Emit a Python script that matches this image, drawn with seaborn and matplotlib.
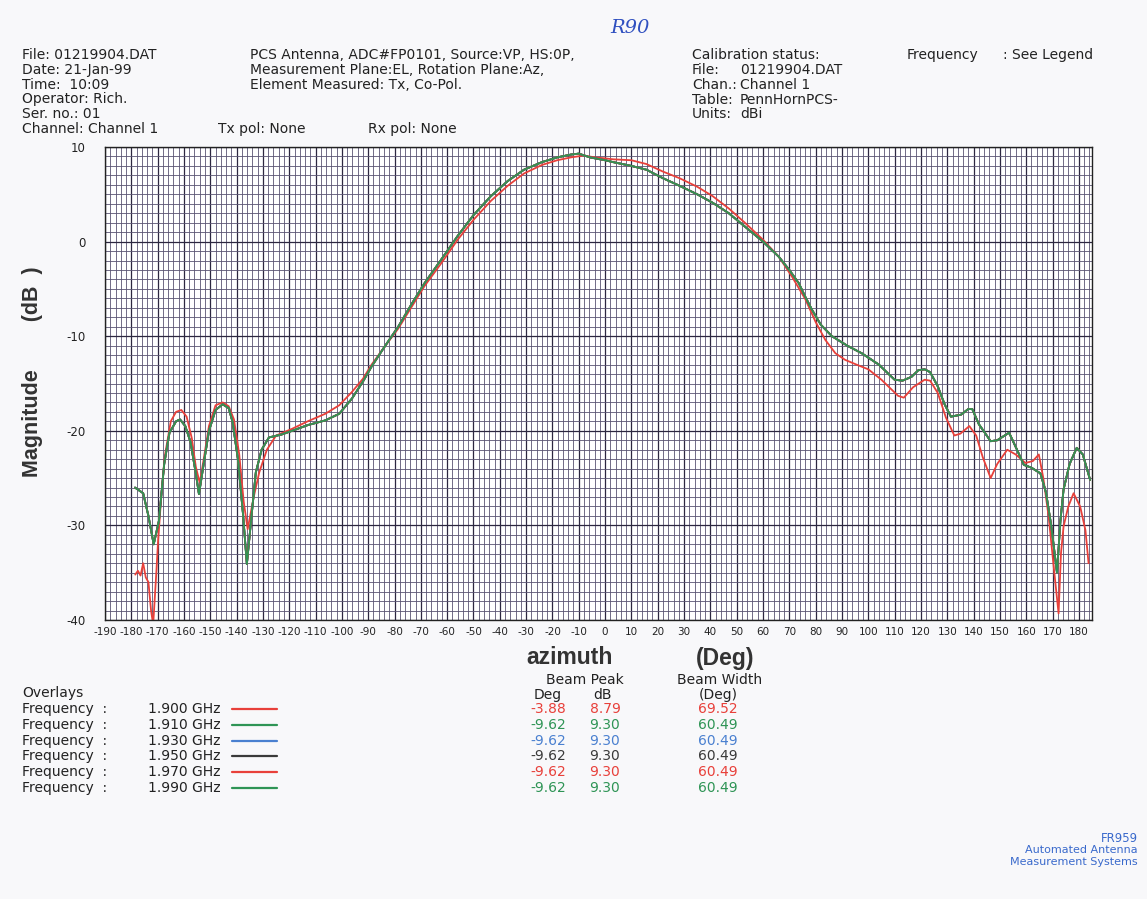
import numpy as np
import pandas as pd
import matplotlib.pyplot as plt
import seaborn as sns
from matplotlib.ticker import MultipleLocator

# azimuth (deg) / magnitude (dB)
az_1900 = [-178.5, -177.5, -176.5, -175.5, -174.5, -173.5, -172.5, -171.7, -170.5, -169.8,
           -168.5, -167.3, -165.0, -163.0, -161.0, -159.0, -157.0, -155.5, -154.0, -152.5,
           -150.5, -148.0, -145.3, -143.0, -141.0, -139.0, -137.3, -135.8, -133.5, -131.4,
           -128.5, -125.0, -119.0, -113.0, -106.3, -101.0, -96.2, -92.0, -88.7, -84.0,
           -78.6, -73.5, -68.6, -62.0, -56.0, -50.0, -43.4, -37.0, -30.8, -24.0,
           -18.2, -13.0, -8.0, -3.9, 0.0, 3.1, 10.0, 15.7, 22.0, 28.3,
           35.0, 40.9, 47.0, 53.5, 60.0, 66.0, 71.0, 76.1, 80.0, 83.7,
           87.5, 91.2, 95.5, 100.0, 105.0, 111.3, 113.5, 117.0, 121.4, 123.5,
           126.4, 129.5, 132.7, 135.0, 138.4, 141.0, 143.5, 146.5, 149.0, 152.8,
           156.0, 159.7, 162.5, 164.8, 166.5, 168.5, 170.5, 172.3, 173.2, 174.2,
           176.0, 178.0, 180.5, 182.5, 183.7]
db_1900 = [-35.2, -34.8, -35.3, -34.0, -35.5, -36.0, -39.0, -40.5, -35.0, -31.5,
           -26.5, -22.7, -19.0, -18.0, -17.8, -18.5, -20.8, -23.8, -25.5, -23.0,
           -19.5, -17.3, -17.0, -17.4, -18.8, -22.5, -27.5, -30.4, -27.0, -24.4,
           -22.0, -20.5, -19.8, -19.0, -18.2, -17.3, -15.9, -14.5, -13.0, -11.2,
           -9.2, -6.9, -4.7, -2.2, 0.2, 2.3, 4.3, 5.9, 7.2, 8.1,
           8.6, 8.9, 9.1, 8.9, 8.8, 8.7, 8.6, 8.2, 7.4, 6.7,
           5.8, 4.8, 3.5, 1.9, 0.2, -1.6, -3.7, -6.1, -8.5, -10.4,
           -11.8, -12.5, -13.0, -13.5, -14.6, -16.3, -16.5, -15.4, -14.6, -14.7,
           -16.0, -18.6, -20.5, -20.3, -19.5, -20.5, -22.8, -25.0, -23.5, -22.0,
           -22.5, -23.4, -23.2, -22.5, -25.0, -29.0, -34.5, -39.3, -33.0, -30.1,
           -28.0, -26.6, -28.0, -30.5, -34.0]

az_19xx = [-178.6, -175.5, -173.5, -171.5, -169.5, -167.5, -165.5, -163.0, -161.5, -159.5,
           -157.5, -155.5, -154.3, -152.5, -150.5, -148.0, -145.3, -143.0, -141.5, -139.5,
           -137.5, -136.1, -134.5, -132.7, -130.5, -127.7, -123.0, -118.9, -113.0, -106.3,
           -101.0, -96.2, -92.0, -88.7, -84.0, -78.6, -73.5, -68.6, -62.0, -56.0,
           -50.0, -43.4, -37.0, -30.8, -24.0, -18.2, -13.0, -10.0, -5.7, 0.0,
           3.1, 10.0, 15.7, 22.0, 28.3, 35.0, 40.9, 47.0, 53.5, 60.0,
           66.0, 70.0, 73.6, 76.0, 78.6, 82.0, 86.2, 92.0, 97.5, 104.0,
           110.0, 113.0, 116.4, 119.0, 121.4, 123.5, 126.4, 129.0, 131.4, 135.2,
           138.0, 139.5, 142.0, 146.5, 149.0, 153.5, 156.5, 159.1, 162.0, 165.4,
           167.5, 169.5, 171.7, 173.0, 174.2, 176.5, 179.2, 181.5, 184.3]
db_19xx = [-26.0, -26.6, -29.0, -32.0, -29.5, -23.5, -20.2, -19.0, -18.8, -19.5,
           -21.2, -24.5, -26.7, -23.5, -20.0, -17.8, -17.2, -17.6, -19.1, -23.0,
           -29.0, -34.1, -29.5, -24.4, -22.0, -20.7, -20.4, -20.0, -19.4, -18.9,
           -18.2, -16.6, -14.8, -13.2, -11.2, -9.0, -6.6, -4.4, -1.8, 0.6,
           2.8, 4.8, 6.4, 7.6, 8.4, 8.9, 9.2, 9.3, 8.9, 8.6,
           8.4, 8.0, 7.6, 6.7, 5.9, 5.0, 4.1, 3.0, 1.5, 0.0,
           -1.6, -3.0, -4.4, -5.8, -7.2, -8.8, -10.0, -11.0, -11.8, -13.0,
           -14.6, -14.7, -14.3, -13.6, -13.5, -13.8, -15.3, -17.2, -18.5, -18.3,
           -17.7, -17.7, -19.3, -21.1, -21.0, -20.2, -22.0, -23.6, -23.9, -24.5,
           -26.5, -30.0, -35.0, -29.5, -26.2, -23.5, -21.8, -22.5, -25.2]

freqs = ['1.900 GHz', '1.910 GHz', '1.930 GHz', '1.950 GHz', '1.970 GHz', '1.990 GHz']
colors = ['#e8403a', '#2e9455', '#4a80d0', '#3a3a3a', '#e8403a', '#2e9455']
peak_deg = ['-3.88', '-9.62', '-9.62', '-9.62', '-9.62', '-9.62']
peak_db = ['8.79', '9.30', '9.30', '9.30', '9.30', '9.30']
beam_width = ['69.52', '60.49', '60.49', '60.49', '60.49', '60.49']

rows = []
for f in freqs:
    az, db = (az_1900, db_1900) if f == '1.900 GHz' else (az_19xx, db_19xx)
    rows.append(pd.DataFrame({'az': az, 'db': db, 'freq': f}))
df = pd.concat(rows, ignore_index=True)

sns.set_style("white")
plt.rcParams['font.family'] = ['DejaVu Sans']
plt.rcParams['axes.unicode_minus'] = False

W, H = 1147, 899
fig = plt.figure(figsize=(W / 100, H / 100), dpi=100, facecolor='#f8f8fa')
ax = fig.add_axes([105 / W, 1 - 620 / H, (1092 - 105) / W, (620 - 147) / H])
ax.set_facecolor('white')

sns.lineplot(data=df, x='az', y='db', hue='freq', palette=dict(zip(freqs, colors)),
             hue_order=freqs, sort=False, estimator=None, linewidth=1.3, legend=False, ax=ax)

ax.set_xlim(-190, 185)
ax.set_ylim(-40, 10)
ax.xaxis.set_major_locator(MultipleLocator(10))
ax.xaxis.set_minor_locator(MultipleLocator(2))
ax.yaxis.set_major_locator(MultipleLocator(10))
ax.yaxis.set_minor_locator(MultipleLocator(1))
ax.grid(which='major', color='#2c2740', linewidth=0.9)
ax.grid(which='minor', color='#5a5472', linewidth=0.6)
ax.set_axisbelow(True)
ax.tick_params(which='both', length=0)
ax.tick_params(axis='x', labelsize=7.5, pad=5, colors='#222222')
ax.tick_params(axis='y', labelsize=8.5, pad=14, colors='#222222')
for s in ax.spines.values():
    s.set_color('#222222')
    s.set_linewidth(1)
ax.set_xlabel('')
ax.set_ylabel('')


def px(x, y, s, **kw):
    kw.setdefault('fontsize', 10)
    kw.setdefault('color', '#222222')
    kw.setdefault('va', 'center')
    fig.text(x / W, 1 - y / H, s, **kw)


# header
for i, s in enumerate(['File: 01219904.DAT', 'Date: 21-Jan-99', 'Time:  10:09',
                       'Operator: Rich.', 'Ser. no.: 01', 'Channel: Channel 1']):
    px(22, 55 + i * 14.8, s)
for i, s in enumerate(['PCS Antenna, ADC#FP0101, Source:VP, HS:0P,',
                       'Measurement Plane:EL, Rotation Plane:Az,',
                       'Element Measured: Tx, Co-Pol.']):
    px(250, 55 + i * 14.8, s)
px(218, 129, 'Tx pol: None')
px(368, 129, 'Rx pol: None')
px(692, 55, 'Calibration status:')
for i, (a, b) in enumerate([('File:', '01219904.DAT'), ('Chan.:', 'Channel 1'),
                            ('Table:', 'PennHornPCS-'), ('Units:', 'dBi')]):
    px(692, 70 + i * 14.8, a)
    px(740, 70 + i * 14.8, b)
px(907, 55, 'Frequency')
px(1003, 55, ': See Legend')
px(610, 28, 'R90', color='#3050c0', fontsize=14, style='italic', family=['DejaVu Serif'])

# axis labels
px(33, 372, 'Magnitude        (dB  )', rotation=90, fontsize=15.5, ha='center',
   fontweight='bold', color='#333333', family=['Liberation Sans'])
px(570, 658, 'azimuth', fontsize=16.5, ha='center', fontweight='bold', color='#333333',
   family=['Liberation Sans'])
px(725, 658, '(Deg)', fontsize=16.5, ha='center', fontweight='bold', color='#333333',
   family=['Liberation Sans'])

# overlays legend + beam table
fs = 10
px(22, 693, 'Overlays', fontsize=fs)
px(585, 680, 'Beam Peak', fontsize=fs, ha='center')
px(720, 680, 'Beam Width', fontsize=fs, ha='center')
px(548, 695, 'Deg', fontsize=fs, ha='center')
px(603, 695, 'dB', fontsize=fs, ha='center')
px(718, 695, '(Deg)', fontsize=fs, ha='center')
for i, f in enumerate(freqs):
    y = 709 + i * 15.8
    px(22, y, 'Frequency  :', fontsize=fs)
    px(148, y, f, fontsize=fs)
    fig.add_artist(plt.Line2D([232 / W, 277 / W], [1 - y / H, 1 - y / H],
                              color=colors[i], linewidth=1.6))
    px(548, y, peak_deg[i], fontsize=fs, ha='center', color=colors[i])
    px(605, y, peak_db[i], fontsize=fs, ha='center', color=colors[i])
    px(718, y, beam_width[i], fontsize=fs, ha='center', color=colors[i])

# footer
px(1138, 838, 'FR959', fontsize=8.5, ha='right', color='#3a6acc')
px(1138, 850, 'Automated Antenna', fontsize=8, ha='right', color='#3a6acc')
px(1138, 862, 'Measurement Systems', fontsize=8, ha='right', color='#3a6acc')

fig.savefig('out.png', dpi=100, facecolor=fig.get_facecolor())
